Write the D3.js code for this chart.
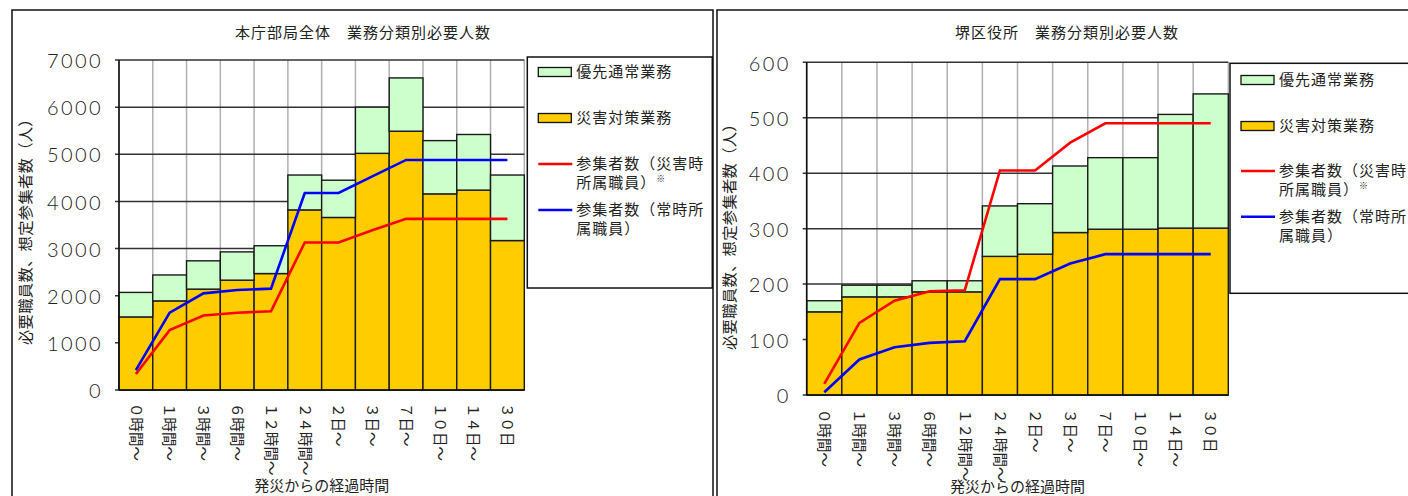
<!DOCTYPE html>
<html><head><meta charset="utf-8">
<script src="https://cdn.jsdelivr.net/npm/d3@7"></script>
<style>
html,body{margin:0;padding:0;background:#fff;}
svg{display:block;}
</style></head>
<body>
<svg id="chart" width="1408" height="496"></svg>
<script>
// ---- data ----
const categories = ["０時間～","１時間～","３時間～","６時間～","１２時間～","２４時間～","２日～","３日～","７日～","１０日～","１４日～","３０日"];
const seriesNames = ["優先通常業務","災害対策業務"];
const lineNames = [["参集者数（災害時","所属職員）"],["参集者数（常時所","属職員）"]];
const noteMark = "※";

const honchoTitle = "本庁部局全体　業務分類別必要人数";
const honchoDisaster = [1550,1890,2140,2330,2470,3820,3660,5020,5490,4160,4240,3170];
const honchoPriority = [520,550,600,600,590,740,790,980,1130,1130,1180,1390];
const honchoDisasterStaff = [340,1270,1580,1640,1670,3130,3130,3390,3630,3630,3630,3630];
const honchoRegularStaff = [420,1640,2050,2120,2150,4180,4180,4530,4880,4880,4880,4880];
const honchoTicks = [0,1000,2000,3000,4000,5000,6000,7000];

const sakaiTitle = "堺区役所　業務分類別必要人数";
const sakaiDisaster = [150,177,177,186,186,250,254,293,299,299,301,301];
const sakaiPriority = [20,21,21,20,20,91,91,120,129,129,205,242];
const sakaiDisasterStaff = [20,130,170,187,189,405,405,455,490,490,490,490];
const sakaiRegularStaff = [5,64,86,94,97,209,209,237,254,254,254,254];
const sakaiTicks = [0,100,200,300,400,500,600];

const yTitle = "必要職員数、想定参集者数（人）";
const xTitle = "発災からの経過時間";

// ---- drawing ----
const svg = d3.select("#chart");
const JP = "'Noto Sans CJK JP','Noto Sans',sans-serif";
const NUM = "Lato,'DejaVu Sans',sans-serif";
const GREEN = "#ccffcc", ORANGE = "#ffcc00";

function drawPanel(o){
  const g = svg.append("g");
  g.append("rect").attr("x",o.panel[0]).attr("y",o.panel[1]).attr("width",o.panel[2]).attr("height",o.panel[3])
    .attr("fill","none").attr("stroke","#111").attr("stroke-width",1.5);

  const x = d3.scaleBand().domain(categories).range([o.plot[0],o.plot[1]]).padding(0);
  const y = d3.scaleLinear().domain([0,o.ticks[o.ticks.length-1]]).range([o.plot[3],o.plot[2]]);

  const bounds = categories.map(c=>x(c)).concat([o.plot[1]]);
  g.selectAll(".vg").data(bounds).join("line")
    .attr("x1",d=>d).attr("x2",d=>d).attr("y1",o.plot[2]).attr("y2",o.plot[3])
    .attr("stroke","#b0b0b0").attr("stroke-width",1.5);
  g.selectAll(".hg").data(o.ticks).join("line")
    .attr("x1",o.plot[0]-4).attr("x2",o.plot[1]).attr("y1",d=>y(d)).attr("y2",d=>y(d))
    .attr("stroke","#333").attr("stroke-width",1.5);

  const rows = categories.map((c,i)=>({cat:c, disaster:o.disaster[i], priority:o.priority[i]}));
  const stack = d3.stack().keys(["disaster","priority"])(rows);
  const fills = [ORANGE, GREEN];
  stack.forEach((layer,li)=>{
    g.selectAll(".bar"+li).data(layer).join("rect")
      .attr("x",d=>x(d.data.cat)).attr("width",x.bandwidth())
      .attr("y",d=>y(d[1])).attr("height",d=>y(d[0])-y(d[1]))
      .attr("fill",fills[li]).attr("stroke","#1a1a1a").attr("stroke-width",1.4);
  });

  g.append("line").attr("x1",o.plot[0]).attr("x2",o.plot[0]).attr("y1",o.plot[2]).attr("y2",o.plot[3]).attr("stroke","#111").attr("stroke-width",1.6);
  g.append("line").attr("x1",o.plot[0]).attr("x2",o.plot[1]).attr("y1",o.plot[3]).attr("y2",o.plot[3]).attr("stroke","#111").attr("stroke-width",1.6);

  const line = d3.line().x((d,i)=>x(categories[i])+x.bandwidth()/2).y(d=>y(d));
  g.append("path").attr("d",line(o.red)).attr("fill","none").attr("stroke","#ff0000").attr("stroke-width",2.6);
  g.append("path").attr("d",line(o.blue)).attr("fill","none").attr("stroke","#0000ff").attr("stroke-width",2.6);

  g.selectAll(".yt").data(o.ticks).join("text")
    .attr("x",o.plot[0]-16).attr("y",d=>y(d)+1).attr("dy","0.36em")
    .attr("text-anchor","end").attr("font-family",NUM).attr("font-size",20).attr("font-weight",300)
    .attr("letter-spacing",2.4).attr("fill","#222").text(d=>d);

  g.selectAll(".xt").data(categories).join("text")
    .attr("transform",d=>`translate(${x(d)+x.bandwidth()/2},${o.plot[3]+o.xlabGap}) rotate(90)`)
    .attr("dy","0.36em").attr("text-anchor","start")
    .attr("font-family",JP).attr("font-size",14.5).attr("fill","#222").text(d=>d);

  g.append("text").attr("x",o.titleX).attr("y",o.titleY).attr("text-anchor","middle")
    .attr("font-family",JP).attr("font-size",15).attr("letter-spacing",1).attr("fill","#222").text(o.title);
  g.append("text").attr("x",(o.plot[0]+o.plot[1])/2).attr("y",o.xTitleY).attr("text-anchor","middle")
    .attr("font-family",JP).attr("font-size",15).attr("fill","#222").text(xTitle);
  g.append("text").attr("transform",`translate(${o.yTitleX},${o.yTitleY}) rotate(-90)`)
    .attr("text-anchor","middle").attr("dy","0.36em")
    .attr("font-family",JP).attr("font-size",15.3).attr("letter-spacing",0.3).attr("fill","#222").text(yTitle);

  const L = o.legend;
  g.append("rect").attr("x",L.x).attr("y",L.y).attr("width",L.w).attr("height",L.h)
    .attr("fill","#fff").attr("stroke","#111").attr("stroke-width",1.5);
  const sx = L.x+11, tx = L.x+49;
  const legItems = [
    {type:"rect", fill:GREEN, y:L.y+L.rows[0], label:[seriesNames[0]]},
    {type:"rect", fill:ORANGE, y:L.y+L.rows[1], label:[seriesNames[1]]},
    {type:"line", color:"#ff0000", y:L.y+L.rows[2], label:lineNames[0], note:true},
    {type:"line", color:"#0000ff", y:L.y+L.rows[3], label:lineNames[1]}
  ];
  legItems.forEach(it=>{
    if(it.type==="rect"){
      g.append("rect").attr("x",sx).attr("y",it.y-4.5).attr("width",33).attr("height",9)
        .attr("fill",it.fill).attr("stroke","#111").attr("stroke-width",1.3);
    } else {
      g.append("line").attr("x1",sx).attr("x2",sx+34).attr("y1",it.y).attr("y2",it.y)
        .attr("stroke",it.color).attr("stroke-width",2.6);
    }
    it.label.forEach((t,k)=>{
      const tt = g.append("text").attr("x",tx).attr("y",it.y+k*19).attr("dy","0.36em")
        .attr("font-family",JP).attr("font-size",15).attr("letter-spacing",1).attr("fill","#222").text(t);
      if(it.note && k===1){
        const w = tt.node().getComputedTextLength();
        g.append("text").attr("x",tx+w).attr("y",it.y+k*19-1)
          .attr("font-family",JP).attr("font-size",9).attr("fill","#222").text(noteMark);
      }
    });
  });
}

drawPanel({
  panel:[12,10,701,500],
  plot:[119,524.3,60,390],
  ticks:honchoTicks, disaster:honchoDisaster, priority:honchoPriority,
  red:honchoDisasterStaff, blue:honchoRegularStaff,
  title:honchoTitle, titleX:363, titleY:38,
  xTitleY:491, yTitleX:25, yTitleY:228, xlabGap:13,
  legend:{x:527.3,y:57,w:185,h:231,rows:[15,61,107,153]}
});
drawPanel({
  panel:[717,10,720,500],
  plot:[806.7,1228.3,62.3,395],
  ticks:sakaiTicks, disaster:sakaiDisaster, priority:sakaiPriority,
  red:sakaiDisasterStaff, blue:sakaiRegularStaff,
  title:sakaiTitle, titleX:1067, titleY:38,
  xTitleY:492, yTitleX:729, yTitleY:233, xlabGap:14,
  legend:{x:1230,y:63.3,w:200,h:230,rows:[16.7,62.7,107.7,153.4]}
});
</script>
</body></html>
